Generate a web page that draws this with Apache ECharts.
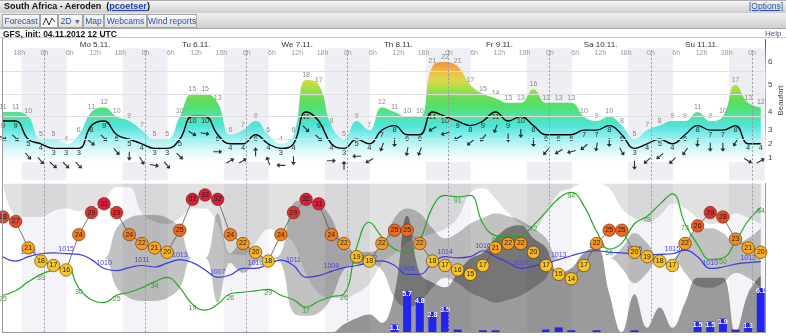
<!DOCTYPE html>
<html>
<head>
<meta charset="utf-8">
<script src="https://cdn.jsdelivr.net/npm/echarts@6/dist/echarts.min.js"></script>
<style>
html,body{margin:0;padding:0;background:#fff;width:786px;height:336px;overflow:hidden;font-family:"Liberation Sans",Arial,sans-serif;}
#chart{position:absolute;left:0;top:0;width:786px;height:336px;}
.abs{position:absolute;z-index:5;}
#row1{left:0;top:0;width:786px;height:13px;background:linear-gradient(#f6f6f6,#cdcdcd);border-top:1px solid #b0b0b0;box-sizing:border-box;}
#title{left:4px;top:1px;font-size:9px;font-weight:bold;color:#111;line-height:11px;white-space:nowrap;}
#title span{color:#1f3f9f;text-decoration:underline;}
#options{left:749px;top:1px;font-size:8.5px;color:#2a4fa8;text-decoration:underline;line-height:11px;white-space:nowrap;}
#row2{left:0;top:13px;width:786px;height:16px;background:linear-gradient(#eeeeee,#cfcfcf);border-bottom:1px solid #a8a8a8;box-sizing:border-box;}
.tab{position:absolute;z-index:6;top:14px;height:14px;border:1px solid #a6a6a6;box-sizing:border-box;background:linear-gradient(#fafafa,#e0e0e0);font-size:8.5px;color:#2a55a8;line-height:12px;text-align:center;white-space:nowrap;}
#row3{left:0;top:29px;width:786px;height:8px;background:#fff;border-bottom:1px solid #c8c8c8;}
#gfs{left:3px;top:28.5px;font-size:8.5px;font-weight:bold;color:#111;line-height:10px;white-space:nowrap;}
#help{left:765px;top:28.5px;font-size:8px;color:#4d4d9a;line-height:10px;}
.ln{position:absolute;z-index:4;background:#9a9a9a;}
</style>
</head>
<body>
<div id="chart"></div>
<div id="row1" class="abs"></div>
<div id="title" class="abs">South Africa - Aeroden &nbsp;(<span>pcoetser</span>)</div>
<div id="options" class="abs">[Options]</div>
<div id="row2" class="abs"></div>
<div class="tab" style="left:2px;width:38px;">Forecast</div>
<div class="tab" style="left:40px;width:18px;background:#fbfbfb;"><svg width="16" height="12" viewBox="0 0 16 12"><polyline points="2,10 5,3 8,10 11,3 14,7" fill="none" stroke="#333" stroke-width="1"/></svg></div>
<div class="tab" style="left:58px;width:25px;">2D <span style="color:#666;font-size:7px;">&#9660;</span></div>
<div class="tab" style="left:83px;width:21px;">Map</div>
<div class="tab" style="left:104px;width:43px;">Webcams</div>
<div class="tab" style="left:147px;width:50px;">Wind reports</div>
<div id="row3" class="abs"></div>
<div id="gfs" class="abs">GFS, init: 04.11.2012 12 UTC</div>
<div id="help" class="abs">Help</div>
<div class="ln" style="left:2px;top:29px;width:1px;height:304px;"></div>
<div class="ln" style="left:2px;top:332px;width:764px;height:1px;"></div>
<div class="ln" style="left:765px;top:183px;width:1px;height:150px;"></div>
<script>
// ---------- data (3-hourly, first point Nov 4 15 UTC) ----------
const hourLabels = ['18h','0h','6h','12h','18h','0h','6h','12h','18h','0h','6h','12h','18h','0h','6h','12h','18h','0h','6h','12h','18h','0h','6h','12h','18h','0h','6h','12h','18h','0h'];
const dayLabels = ['Mo 5.11.','Tu 6.11.','We 7.11.','Th 8.11.','Fr 9.11.','Sa 10.11.','Su 11.11.'];
const beaufortKnots = [1,4,7,11,17,22];
const beaufortLabels = ['1','2','3','4','5','6'];

const windGust = [11,11,10,5,5,4,6,11,12,10, 9,7,5,5,10,15,15,13,6,7, 9,6,4,6,18,17,8,5,9,7, 12,11,10,10,21,22,21,17,15,14, 13,13,16,13,13,13,10,9,10,8, 5,7,8,9,9,11,9,10,17,13, 12];
const windMean = [9,9,5,4,3,3,3,8,9,6, 5,4,3,3,5,10,10,6,4,4, 6,4,3,4,11,9,4,3,5,4, 7,8,6,6,11,10,9,8,9,11, 9,10,8,6,6,6,7,7,8,6, 3,4,5,4,6,8,7,7,8,4, 4];
const windDirTo = [120,135,140,140,130,135,135,130,135,140, 180,150,100,140,135,120,100,90,60,60, 0,340,270,180,135,135,90,0,270,240, 200,180,190,200,240,255,240,230,220,200, 180,180,180,220,240,255,230,190,180,150, 180,230,230,225,215,185,180,180,210,120, 60];
const temperature = [28,27,21,18,17,16,24,29,31,29, 24,22,21,20,25,32,33,32,24,22, 20,18,24,29,32,31,24,22,19,18, 22,25,25,22,18,17,16,15,17,21, 22,22,20,17,15,14,17,22,25,25, 20,19,18,17,22,26,29,28,23,21, 20];
const humidity = [25,28,34,39,42,44,30,22,20,25, 27,30,34,37,30,19,15,19,26,27, 28,29,25,22,17,21,24,26,57,74, 64,56,54,62,84,92,91,92,73,65, 64,65,72,81,90,94,85,68,56,60, 73,78,86,93,73,59,49,50,61,75, 84];
const pressure = [1014,1012.5,1014,1015,1015.3,1015,1014.8,1013,1010,1009.3, 1010.3,1011,1010.5,1011.8,1013,1012,1009.5,1007,1007.8,1010, 1010,1011.5,1012.8,1011,1007,1007.6,1009,1010.3,1011,1012, 1012.6,1011,1008,1008,1011.8,1014,1013.6,1014,1016,1014, 1012,1010,1010.8,1011.8,1013,1014.3,1015.5,1016,1015.5,1015.3, 1015,1014.6,1014.8,1015,1016.2,1014,1010,1010.5,1011.5,1012, 1012.3];
const precipitation = [0,0,0,0,0,0,0,0,0,0, 0,0,0,0,0,0,0,0,0,0, 0,0,0,0,0,0,0,0,0,0, 0,1.1,5.7,4.8,2.8,3.5,0.4,0,0.3,0.3, 0,0,0,0.4,0.7,0.3,0,0.3,0,0, 0.3,0,0,0,0,1.5,1.5,1.9,0.4,1.3, 6.1];
const cloudHigh = [0,27,28,28,23,21,23,21,15,3, 3,25,32,34,29,21,21,34,59,60, 50,38,42,50,76,92,96,96,92,84, 67,59,50,46,42,38,29,8,4,13, 25,34,38,25,8,4,0,0,4,21, 29,32,27,17,21,29,34,32,25,29, 34];
const cloudMid = [0,0,0,0,0,0,0,0,0,50, 67,72,72,67,50,0,0,75,8,25, 8,0,8,92,97,92,67,20,10,10, 20,67,83,75,50,33,42,58,67,75, 70,63,50,33,0,0,0,0,0,17, 42,25,0,0,25,47,50,42,25,33, 50];
const cloudLow = [0,0,0,0,0,0,0,0,0,0, 0,0,0,0,0,0,0,0,0,0, 0,0,0,0,0,0,0,7,12,15, 8,33,98,50,42,38,50,62,67,79, 88,90,79,71,50,54,67,72,33,0, 32,4,21,4,25,46,46,46,0,33, 48];

// ---------- helpers ----------
const pairs = arr => arr.map((v, i) => [i, v]);
const xMin = -0.2, xMax = 60.3;
const nightBands = [], dayLines = [];
for (let k = 0; k < 8; k++) {
  nightBands.push([{xAxis: 1.48 + 8 * k}, {xAxis: Math.min(5.04 + 8 * k, xMax)}]);
  dayLines.push({xAxis: 3.29 + 8 * k});
}
const windGrad = {
  type: 'linear', x: 0, y: 39.2, x2: 0, y2: 162, global: true,
  colorStops: [
    {offset: 0, color: '#dd1010'}, {offset: 0.111, color: '#ee5a28'},
    {offset: 0.185, color: '#f29040'}, {offset: 0.259, color: '#f0b848'},
    {offset: 0.333, color: '#dcd848'}, {offset: 0.407, color: '#a0e048'},
    {offset: 0.481, color: '#68dc58'}, {offset: 0.556, color: '#50e070'},
    {offset: 0.630, color: '#50e4a8'}, {offset: 0.704, color: '#50e4d8'},
    {offset: 0.778, color: '#84ecec'}, {offset: 0.852, color: '#bcf4f4'},
    {offset: 0.926, color: '#e6fafa'}, {offset: 1, color: '#ffffff'}
  ]
};
function tempColor(t) {
  if (t >= 31) return '#dc1e3c';
  if (t >= 29) return '#e22f32';
  if (t >= 27) return '#e6452a';
  if (t >= 26) return '#ea5a24';
  if (t >= 25) return '#ec6a20';
  if (t >= 24) return '#f07e1c';
  if (t >= 23) return '#f28c1c';
  if (t >= 22) return '#f49a1e';
  if (t >= 21) return '#f5a820';
  if (t >= 20) return '#f6b422';
  if (t >= 19) return '#f6be24';
  return '#f6c526';
}
const arrowPath = 'path://M-0.55,4.5 L0.55,4.5 L0.55,-1.3 L2.5,-1.3 L0,-4.5 L-2.5,-1.3 L-0.55,-1.3 Z';
const hidden = {show: false};
const cloudLine = {width: 0, opacity: 0};

const chart = echarts.init(document.getElementById('chart'), null, {renderer: 'canvas', width: 786, height: 336});
const option = {
  animation: false,
  textStyle: {fontFamily: 'Liberation Sans, Arial, sans-serif'},
  grid: [
    {left: 0.47, width: 764.1, top: 48.25, height: 131.95},
    {left: 0.47, width: 764.1, top: 183.5, height: 149},
    {left: 6.6, width: 758.1, top: 48, height: 1},
    {left: 44.5, width: 707.7, top: 38.5, height: 1},
    {left: 765, width: 3, top: 39.2, height: 122.8}
  ],
  xAxis: [
    {gridIndex: 0, type: 'value', min: xMin, max: xMax, show: false},
    {gridIndex: 1, type: 'value', min: xMin, max: xMax, show: false},
    {gridIndex: 2, type: 'value', z: 10, min: -0.5, max: hourLabels.length - 0.5, axisLine: hidden, axisTick: hidden, splitLine: hidden,
      axisLabel: {customValues: hourLabels.map((_, i) => i), formatter: v => hourLabels[v], fontSize: 7, color: '#999', margin: 1, showMinLabel: true, showMaxLabel: true}},
    {gridIndex: 3, type: 'value', z: 10, min: -0.5, max: dayLabels.length - 0.5, axisLine: hidden, axisTick: hidden, splitLine: hidden,
      axisLabel: {customValues: dayLabels.map((_, i) => i), formatter: v => dayLabels[v], fontSize: 8, color: '#333', margin: 1}},
    {gridIndex: 4, type: 'category', data: ['Bf'], show: false}
  ],
  yAxis: [
    {gridIndex: 0, type: 'value', min: -4, max: 25, show: false},
    {gridIndex: 1, type: 'value', min: 0, max: 100, show: false},
    {gridIndex: 1, type: 'value', min: 1.81, max: 35.6, show: false},
    {gridIndex: 1, type: 'value', min: 988.3, max: 1038.8, show: false},
    {gridIndex: 1, type: 'value', min: 0, max: 20.4, show: false},
    {gridIndex: 1, type: 'value', min: 0, max: 125, inverse: true, show: false},
    {gridIndex: 1, type: 'value', min: -125, max: 125, show: false},
    {gridIndex: 1, type: 'value', min: 0, max: 125, show: false},
    {gridIndex: 4, type: 'value', z: 10, min: 0, max: 27, position: 'right',
      axisLine: hidden, axisTick: hidden, splitLine: hidden,
      axisLabel: {customValues: beaufortKnots, formatter: v => beaufortLabels[beaufortKnots.indexOf(v)], fontSize: 8, color: '#444', margin: 2},
      name: 'Beaufort', nameLocation: 'middle', nameRotate: 90, nameGap: 11,
      nameTextStyle: {fontSize: 8, color: '#444'}},
    {gridIndex: 2, type: 'value', show: false},
    {gridIndex: 3, type: 'value', show: false}
  ],
  series: [
    {type: 'line', xAxisIndex: 0, yAxisIndex: 0, data: [], z: 0, silent: true,
      markArea: {silent: true, itemStyle: {color: '#eeeef5'}, data: nightBands},
      markLine: {silent: true, symbol: ['none', 'none'], label: hidden,
        data: [{yAxis: 5}, {yAxis: 10}, {yAxis: 15}, {yAxis: 20}].map(d => Object.assign(d, {lineStyle: {color: '#e0e0e0', width: 1, type: 'solid'}}))
          .concat(dayLines.map(d => Object.assign({}, d, {lineStyle: {color: '#9a9a9a', width: 1, type: [2, 2]}})))}},
    {type: 'line', xAxisIndex: 0, yAxisIndex: 0, data: pairs(windGust), z: 1, smooth: 0.45,
      symbol: 'circle', symbolSize: 1, showSymbol: true, itemStyle: {color: 'rgba(0,0,0,0)'},
      lineStyle: {width: 0}, areaStyle: {color: windGrad, opacity: 1, origin: 0},
      label: {show: true, position: 'top', distance: 1, fontSize: 7, color: '#8a8a8a', formatter: p => p.value[1]}},
    {type: 'line', xAxisIndex: 0, yAxisIndex: 0, data: pairs(windMean), z: 3, smooth: 0.45,
      symbol: 'circle', symbolSize: 1, showSymbol: true, itemStyle: {color: 'rgba(0,0,0,0)'},
      lineStyle: {color: '#000', width: 1.4},
      label: {show: true, position: 'bottom', distance: 0, fontSize: 7.5, color: '#333', formatter: p => p.value[1]}},
    {type: 'scatter', xAxisIndex: 0, yAxisIndex: 0, z: 4, symbol: arrowPath, symbolSize: [5, 9],
      symbolOffset: [0, 17], itemStyle: {color: '#000'},
      data: windMean.map((v, i) => ({value: [i, v], symbolRotate: -windDirTo[i]}))},
    {type: 'line', xAxisIndex: 1, yAxisIndex: 1, data: [], z: 0, silent: true,
      markArea: {silent: true, itemStyle: {color: '#f4f4f8'}, data: nightBands},
      markLine: {silent: true, symbol: ['none', 'none'], label: hidden,
        lineStyle: {color: '#9a9a9a', width: 1, type: [2, 2]}, data: dayLines}},
    {type: 'line', xAxisIndex: 1, yAxisIndex: 5, data: pairs(cloudHigh), z: 1, smooth: 0.4, symbol: 'none',
      lineStyle: cloudLine, areaStyle: {color: 'rgba(0,0,0,0.17)', origin: 'start'}},
    {type: 'line', xAxisIndex: 1, yAxisIndex: 6, data: pairs(cloudMid), z: 1, smooth: 0.4, symbol: 'none',
      lineStyle: cloudLine, areaStyle: {color: 'rgba(0,0,0,0.34)', origin: 0}},
    {type: 'line', xAxisIndex: 1, yAxisIndex: 6, data: pairs(cloudMid.map(v => -v)), z: 1, smooth: 0.4, symbol: 'none',
      lineStyle: cloudLine, areaStyle: {color: 'rgba(0,0,0,0.34)', origin: 0}},
    {type: 'line', xAxisIndex: 1, yAxisIndex: 7, data: pairs(cloudLow), z: 1, smooth: 0.4, symbol: 'none',
      lineStyle: cloudLine, areaStyle: {color: 'rgba(0,0,0,0.56)', origin: 0}},
    {type: 'bar', xAxisIndex: 1, yAxisIndex: 4, data: pairs(precipitation), z: 2, barWidth: 8,
      itemStyle: {color: '#2424f0'},
      label: {show: true, position: 'insideTop', distance: 0, color: '#fff', fontSize: 7, fontWeight: 'bold',
        formatter: p => p.value[1] >= 1 ? p.value[1].toFixed(1) : ''}},
    {type: 'line', xAxisIndex: 1, yAxisIndex: 1, z: 3, smooth: 0.45,
      symbol: 'circle', symbolSize: 1, showSymbol: true, itemStyle: {color: 'rgba(0,0,0,0)'},
      lineStyle: {color: '#22aa22', width: 1.2},
      label: {show: false, position: 'bottom', distance: 0, fontSize: 7, color: '#3a9a3a', formatter: p => Math.round(p.value[1])},
      data: humidity.map((v, i) => ({value: [i, v], label: {show: i % 3 === 0}}))},
    {type: 'line', xAxisIndex: 1, yAxisIndex: 3, z: 4, smooth: 0.45,
      symbol: 'circle', symbolSize: 1, showSymbol: true, itemStyle: {color: 'rgba(0,0,0,0)'},
      lineStyle: {color: '#3a3ae0', width: 1.2},
      label: {show: false, position: 'top', distance: 1, fontSize: 7, color: '#4646e0', formatter: p => Math.round(p.value[1])},
      data: pressure.map((v, i) => ({value: [i, v], label: {show: i % 3 === 2}}))},
    {type: 'line', xAxisIndex: 1, yAxisIndex: 2, z: 5,
      symbol: 'circle', symbolSize: 12.5, showSymbol: true,
      lineStyle: {color: '#555', width: 0.8},
      itemStyle: {borderColor: 'rgba(90,40,0,0.75)', borderWidth: 0.8},
      label: {show: true, position: 'inside', fontSize: 7, color: '#222', formatter: p => p.value[1]},
      data: temperature.map((v, i) => ({value: [i, v], itemStyle: {color: tempColor(v)}}))},
    {type: 'bar', xAxisIndex: 4, yAxisIndex: 8, data: [27], barWidth: '100%', z: 2, silent: true,
      itemStyle: {color: windGrad}}
  ]
};
chart.setOption(option);
</script>
</body>
</html>
